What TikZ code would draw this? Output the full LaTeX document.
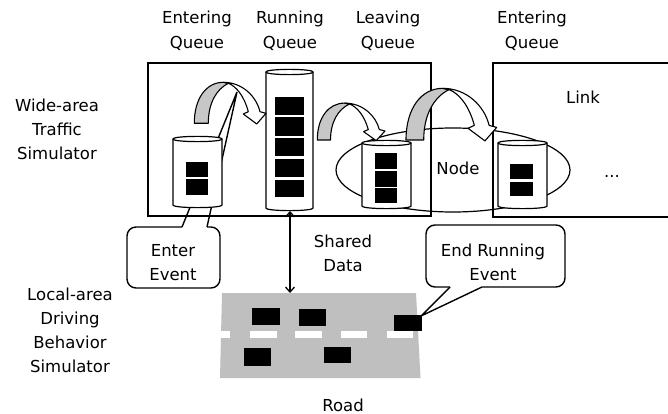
\documentclass[tikz,border=0pt]{standalone}
\usepackage{fontspec}
\setmainfont{DejaVu Sans}
\usetikzlibrary{arrows.meta}

% queue drawn as an upright cylinder: left, top, right, bottom
\newcommand\queuecyl[4]{%
  \filldraw[cylbody] (#1,#2) .. controls +(0,-3.5) and +(0,-3.5) .. (#3,#2)
    -- (#3,#4) .. controls +(0,3.5) and +(0,3.5) .. (#1,#4) -- cycle;
  \draw[cylbody,fill=none] (#1,#2) .. controls +(0,3.5) and +(0,3.5) .. (#3,#2);
}
% a black block (vehicle)
\newcommand\vehicle[4]{\fill[black] (#1,#2) rectangle (#3,#4);}
% bent transfer arrow: tail corner x, y, xscale, yscale
\newcommand\bentarrow[4]{%
  \begin{scope}[shift={(#1,#2)},xscale=#3,yscale=#4]
    \filldraw[bandback] (0,0) .. controls (0,-25) and (12,-41) .. (29,-41)
      -- (34,-40) .. controls (22,-34) and (14,-20) .. (14,0) -- cycle;
    \filldraw[bandfront] (29,-41) .. controls (48,-41) and (62,-27) .. (65.7,-11.6)
      -- (71.7,-10) -- (62.4,0.7) -- (49,-9.3) -- (54,-11.6)
      .. controls (50,-27) and (42,-37) .. (34,-40) -- cycle;
  \end{scope}}

\begin{document}
\begin{tikzpicture}[x=1pt,y=-1pt,
  lbl/.style={font=\fontsize{16.5}{24}\selectfont, align=center, inner sep=0pt},
  ttl/.style={lbl, font=\fontsize{16.5}{25.5}\selectfont},
  frame/.style={draw=black, line width=1.5pt},
  cylbody/.style={fill=white, draw=black, line width=1.2pt},
  bandback/.style={fill=black!22, draw=black, line width=1.1pt, line join=round},
  bandfront/.style={fill=white, draw=black, line width=1.1pt, line join=round},
  callout/.style={fill=white, draw=black, line width=1.4pt},
  pointer/.style={draw=black, line width=1.4pt},
  shared/.style={line width=1.3pt,
    {Straight Barb[length=5pt,width=9pt]}-{Straight Barb[length=5pt,width=9pt]}}
]
\useasboundingbox (0,0) rectangle (668,414);
\clip (0,0) rectangle (668,414);
\fill[white] (0,0) rectangle (668,414);

% ---- callout: Enter Event ----
\coordinate (eetip) at (237,92);
\filldraw[callout, rounded corners=9pt] (127,227) rectangle (220,288);
\fill[white] (182,229) -- (182,227) -- (eetip) -- (207,227) -- (207,229) -- cycle;
\draw[pointer] (182,227) -- (eetip) -- (207,227);

% ---- simulator frames ----
\draw[frame] (148,63) rectangle (431,216);
\draw[frame] (493,63) rectangle (680,217);

% ---- node region ----
\draw[line width=1.2pt] (453,170) ellipse [x radius=117, y radius=42];

% ---- queues ----
\queuecyl{173}{139}{222}{205}
\vehicle{186}{162}{208}{177}
\vehicle{186}{179}{208}{195}

\queuecyl{266}{72}{313}{208}
\vehicle{275}{97}{304}{115}
\vehicle{275}{117}{304}{136}
\vehicle{275}{138}{304}{156}
\vehicle{275}{159}{304}{177}
\vehicle{275}{180}{304}{197}

\queuecyl{362}{143}{411}{206}
\vehicle{375}{153}{397}{169}
\vehicle{375}{171}{397}{187}
\vehicle{375}{188}{397}{203}

\queuecyl{498}{143}{547}{206}
\vehicle{510}{164}{533}{179}
\vehicle{510}{182}{533}{196}

% ---- transfers between queues ----
\bentarrow{194.3}{123.3}{1}{1}
\bentarrow{317.3}{140}{0.944}{0.9}
\bentarrow{406}{140}{1.265}{1.26}

% ---- road ----
\fill[black!25] (222,293) -- (416,293) -- (420.5,378) -- (220,378) -- cycle;
\fill[white] (220,331) rectangle (230,338);
\fill[white] (250,331) rectangle (277,338);
\fill[white] (295,331) rectangle (322,338);
\fill[white] (341,331) rectangle (367,338);
\fill[white] (387,331) rectangle (413,338);
\vehicle{252}{308}{280}{325}
\vehicle{299}{309}{326}{326}
\vehicle{394}{315}{422}{331}
\vehicle{244}{348}{271}{366}
\vehicle{324}{347}{351}{363}

% ---- shared data link ----
\coordinate (rqfoot) at (290,211);
\coordinate (roadtop) at (290,293);
\draw[shared] (rqfoot) -- (roadtop);

% ---- callout: End Running Event ----
\coordinate (ertip) at (421,316);
\filldraw[callout, rounded corners=9pt] (426,225) rectangle (565,287);
\fill[white] (450,285) -- (450,287) -- (ertip) -- (482,287) -- (482,285) -- cycle;
\draw[pointer] (450,287) -- (ertip) -- (482,287);

% ---- labels ----
\node[ttl] (t1) at (197,31) {Entering\\Queue};
\node[ttl] (t2) at (290,31) {Running\\Queue};
\node[ttl] (t3) at (388,31) {Leaving\\Queue};
\node[ttl] (t4) at (532,31) {Entering\\Queue};
\node[lbl] (wide) at (57,129) {Wide-area\\Traffic\\Simulator};
\node[lbl] (local) at (70,330) {Local-area\\Driving\\Behavior\\Simulator};
\node[lbl] (enter) at (173,263) {Enter\\Event};
\node[lbl] (shdata) at (343,253) {Shared\\Data};
\node[lbl] (endrun) at (493,262) {End Running\\Event};
\node[lbl] (roadlbl) at (343,405) {Road};
\node[lbl] (linklbl) at (583,97) {Link};
\node[lbl] (nodelbl) at (458,168) {Node};
\node[lbl, anchor=base] (more) at (612,177) {...};
\end{tikzpicture}
\end{document}
